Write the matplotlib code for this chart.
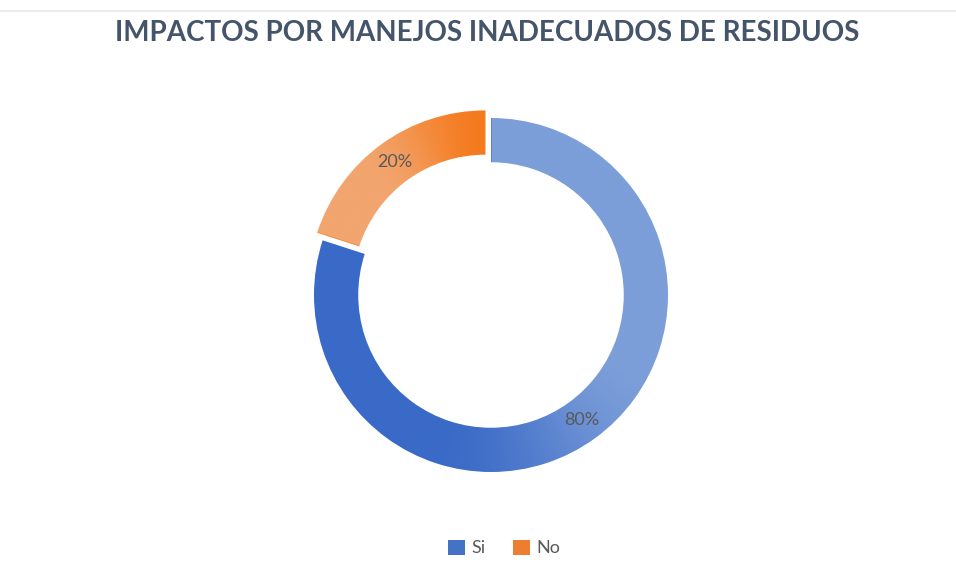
import numpy as np
import matplotlib.pyplot as plt
from matplotlib.colors import to_rgb
from matplotlib.patches import Patch

# chart data
categories = ["Si", "No"]
values = [80, 20]
title = "IMPACTOS POR MANEJOS INADECUADOS DE RESIDUOS"

# gradient colours per slice: (start colour, end colour, start t, end t)
grad = [
    ("#7C9ED9", "#3A6AC7", 0.40, 0.70),
    ("#F2A56E", "#F57A1E", 0.35, 1.00),
]
legend_colors = ["#4472C4", "#ED7D31"]

W, H = 956, 580
R = 177.0
cx, cy = 491.0, 295.0

fig = plt.figure(figsize=(W / 100, H / 100), dpi=100)
ax = fig.add_axes([0, 0, 1, 1])

wedges, texts, autotexts = ax.pie(
    values, startangle=90, counterclock=False,
    explode=[0, 0.053], radius=1.0, pctdistance=0.875,
    autopct="%1.0f%%",
    wedgeprops=dict(width=0.25, linewidth=0, edgecolor="none"),
    textprops=dict(color="#595959", fontsize=13, family="Lato"),
)

ax.set_xlim(-cx / R, (W - cx) / R)
ax.set_ylim(-(H - cy) / R, cy / R)
ax.set_aspect("equal")
ax.axis("off")

# angular gradient inside each wedge
n = 700
xs = np.linspace(-1.3, 1.3, n)
ys = np.linspace(-1.3, 1.3, n)
X, Y = np.meshgrid(xs, ys)
for w, (c0, c1, t0, t1) in zip(wedges, grad):
    ox, oy = w.center
    # clockwise angle from the top, relative to slice start
    ang = (np.degrees(np.arctan2(X - ox, Y - oy))) % 360
    start = (90 - w.theta2) % 360
    span = (w.theta2 - w.theta1)
    t = ((ang - start) % 360) / span
    s = np.clip((t - t0) / (t1 - t0), 0, 1)
    s = s * s * (3 - 2 * s)
    a = np.array(to_rgb(c0))
    b = np.array(to_rgb(c1))
    img = a[None, None, :] * (1 - s[..., None]) + b[None, None, :] * s[..., None]
    w.set_facecolor("none")
    im = ax.imshow(img, extent=(-1.3, 1.3, -1.3, 1.3), origin="lower",
                   interpolation="bilinear", zorder=1)
    im.set_clip_path(w)

ax.set_xlim(-cx / R, (W - cx) / R)
ax.set_ylim(-(H - cy) / R, cy / R)
for t in autotexts:
    t.set_zorder(3)

fig.text(487 / W, 1 - 33 / H, title, ha="center", va="center",
         fontsize=20, fontweight="bold", color="#44546A", family="Lato")

handles = [Patch(facecolor=c, edgecolor="none") for c in legend_colors]
fig.legend(handles, categories, loc="center", bbox_to_anchor=(504 / W, 1 - 548 / H),
           ncol=2, frameon=False, handlelength=0.95, handleheight=0.95,
           handletextpad=0.35, columnspacing=1.5,
           prop=dict(family="Lato", size=13), labelcolor="#595959")

fig.add_artist(plt.Line2D([0, 1], [1 - 10.5 / H, 1 - 10.5 / H],
                          color="#E8E8E8", lw=1.2, transform=fig.transFigure))

fig.savefig("out.png", dpi=100)
